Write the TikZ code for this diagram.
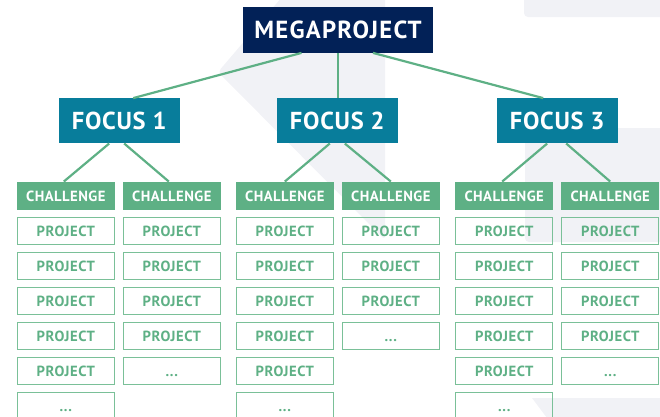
\documentclass[tikz,border=0pt]{standalone}
\usepackage{fontspec}
\setmainfont{PT Sans}
\definecolor{navy}{RGB}{2,33,87}
\definecolor{tealb}{RGB}{8,125,155}
\definecolor{greenf}{RGB}{94,176,133}
\definecolor{greenl}{RGB}{122,192,152}
\definecolor{wmgray}{RGB}{241,242,246}
\begin{document}
\begin{tikzpicture}[x=1pt,y=-1pt,
  mega/.style={fill=navy, text=white, font=\bfseries\fontsize{24.7}{25}\selectfont\addfontfeatures{LetterSpace=5},
    minimum width=189.4pt, minimum height=45.4pt, inner sep=0pt, text height=17pt, text depth=0pt},
  focus/.style={fill=tealb, text=white, font=\bfseries\fontsize{24.5}{25}\selectfont\addfontfeatures{LetterSpace=3},
    minimum width=120.7pt, minimum height=45pt, inner sep=0pt, text height=17pt, text depth=0pt},
  chal/.style={fill=greenf, text=white, font=\bfseries\fontsize{14.7}{15}\selectfont\addfontfeatures{LetterSpace=3},
    minimum width=98.3pt, minimum height=28.3pt, inner sep=0pt, text height=10.3pt, text depth=0pt},
  proj/.style={draw=greenl, line width=1.3pt, text=greenf, font=\bfseries\fontsize{14.7}{15}\selectfont\addfontfeatures{LetterSpace=4},
    minimum width=97pt, minimum height=27pt, inner sep=0pt, text height=10.3pt, text depth=0pt},
  conn/.style={draw=greenf, line width=2.2pt},
  wm/.style={fill=wmgray}]
\useasboundingbox (0,0) rectangle (660,416);
% watermark
\fill[wm, rounded corners=4pt] (288,-10) -- (385,-10) -- (385,240) -- (218,72) -- cycle;
\fill[wm, rounded corners=4pt] (524,-10) rectangle (675,17);
\fill[wm, rounded corners=4pt] (525,128) rectangle (675,242);
\fill[wm] (532,398) -- (675,398) -- (675,430) -- (556,430) -- cycle;
% main nodes
\node[mega] (mega) at (338,30) {MEGAPROJECT};
\node[focus] (f1) at (119.2,120.8) {FOCUS 1};
\node[focus] (f2) at (337.3,120.8) {FOCUS 2};
\node[focus] (f3) at (557.2,120.8) {FOCUS 3};
% columns
\foreach \i/\x/\n in {1/65.8/5, 2/171.8/4, 3/284.8/5, 4/390.8/3, 5/504.2/5, 6/610.2/4} {
  \node[chal] (c\i) at (\x,195.9) {CHALLENGE};
  \foreach \j in {1,...,\n} {\node[proj] (p\i-\j) at (\x,195.9+35*\j) {PROJECT};}
  \pgfmathtruncatemacro\m{\n+1}
  \node[proj] (p\i-\m) at (\x,195.9+35*\m) {...};
}
% connectors
\draw[conn] ([xshift=-36.5pt]mega.south) -- ([xshift=14pt]f1.north);
\draw[conn] (mega.south) -- (mega.south |- f2.north);
\draw[conn] ([xshift=35pt]mega.south) -- ([xshift=-14pt]f3.north);
\draw[conn] ([xshift=-10pt]f1.south) -- ([xshift=-2pt]c1.north);
\draw[conn] ([xshift=5pt]f1.south) -- ([xshift=-3pt]c2.north);
\draw[conn] ([xshift=-7.5pt]f2.south) -- (c3.north);
\draw[conn] ([xshift=7.5pt]f2.south) -- (c4.north);
\draw[conn] ([xshift=-10pt]f3.south) -- ([xshift=-2pt]c5.north);
\draw[conn] ([xshift=9pt]f3.south) -- (c6.north);
\end{tikzpicture}
\end{document}
